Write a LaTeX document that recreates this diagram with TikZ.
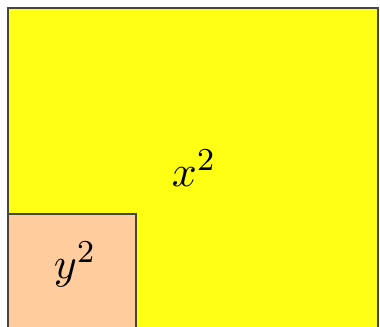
\documentclass[tikz,border=0pt]{standalone}
\usetikzlibrary{positioning}
\definecolor{peach}{RGB}{255,204,158}
\definecolor{brightyellow}{RGB}{255,255,20}
\definecolor{edge}{RGB}{70,70,60}
\begin{document}
\begin{tikzpicture}[x=0.25pt, y=0.25pt,
    square/.style={draw=edge, line width=0.55pt},
    lbl/.style={font=\fontsize{11}{13}\selectfont, inner sep=0pt}]
\useasboundingbox (0,0) rectangle (380,326);
\clip (0,0) rectangle (380,326);

% big square
\filldraw[square, fill=brightyellow] (8,-60) rectangle (378,318);
% small square
\filldraw[square, fill=peach] (8,-16) rectangle (136,112);

% labels
\node[lbl] (xsq) at (194,158) {$x^2$};
\node[lbl] (ysq) at (75,62) {$y^2$};

\end{tikzpicture}
\end{document}
